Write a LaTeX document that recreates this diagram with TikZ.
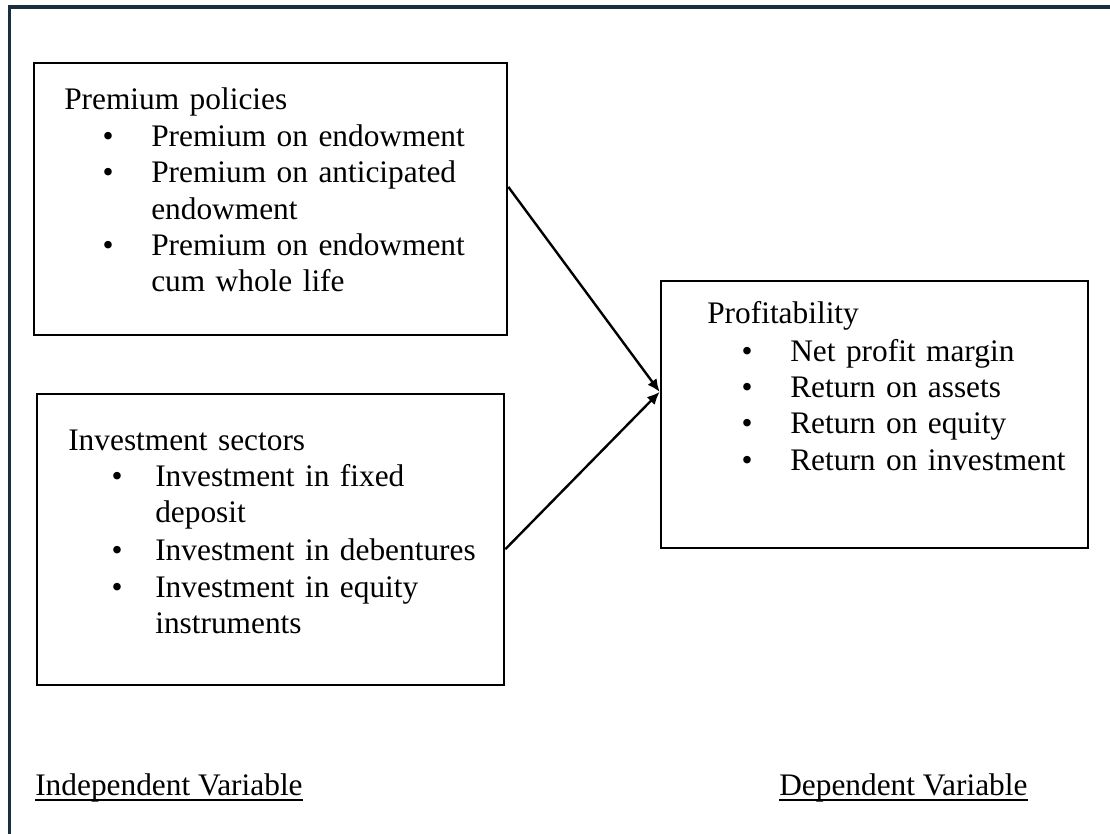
\documentclass[tikz,border=0pt]{standalone}
\usepackage{fontspec}
\setmainfont{Liberation Serif}
\usetikzlibrary{arrows.meta,calc}

\definecolor{framecol}{RGB}{23,48,64}

\tikzset{
  box/.style={draw, line width=1.8pt, inner sep=0pt},
  txt/.style={anchor=base west, inner sep=0pt, text width=11cm, align=left},
  dot/.style={anchor=base, inner sep=0pt},
  lbl/.style={anchor=base west, inner sep=0pt},
  link/.style={line width=1.7pt, -{Latex[length=9pt,width=8pt]}},
}

\begin{document}
\begin{tikzpicture}[x=0.025cm, y=-0.025cm, font=\fontsize{22.3pt}{26.2pt}\selectfont]
  \useasboundingbox (0,0) rectangle (1110,834);

  % outer frame
  \draw[framecol, line width=2.2pt] (9.5,834) -- (9.5,7) -- (1110,7);

  % boxes
  \node[box, minimum width=11.825cm, minimum height=6.8cm] (prem) at (270.5,199) {};
  \node[box, minimum width=11.675cm, minimum height=7.275cm] (inv) at (270.5,539.5) {};
  \node[box, minimum width=10.675cm, minimum height=6.675cm] (prof) at (874.5,414.5) {};

  % premium policies
  \node[txt] (premtitle) at (64,110) {Premium policies};
  \node[dot] (pb1) at (108,147) {\textbullet};
  \node[txt] (pi1) at (151,147) {Premium on endowment};
  \node[dot] (pb2) at (108,183) {\textbullet};
  \node[txt] (pi2) at (151,183) {Premium on anticipated\\endowment};
  \node[dot] (pb3) at (108,255) {\textbullet};
  \node[txt] (pi3) at (151,255) {Premium on endowment\\cum whole life};

  % investment sectors
  \node[txt] (invtitle) at (68,450) {Investment sectors};
  \node[dot] (ib1) at (117,486) {\textbullet};
  \node[txt] (ii1) at (155,486) {Investment in fixed\\deposit};
  \node[dot] (ib2) at (117,560) {\textbullet};
  \node[txt] (ii2) at (155,560) {Investment in debentures};
  \node[dot] (ib3) at (117,597) {\textbullet};
  \node[txt] (ii3) at (155,597) {Investment in equity\\instruments};

  % profitability
  \node[txt] (proftitle) at (707,323) {Profitability};
  \node[dot] (fb1) at (747,361) {\textbullet};
  \node[txt] (fi1) at (790,361) {Net profit margin};
  \node[dot] (fb2) at (747,397) {\textbullet};
  \node[txt] (fi2) at (790,397) {Return on assets};
  \node[dot] (fb3) at (747,433) {\textbullet};
  \node[txt] (fi3) at (790,433) {Return on equity};
  \node[dot] (fb4) at (747,470) {\textbullet};
  \node[txt] (fi4) at (790,470) {Return on investment};

  % arrows
  \coordinate (meet) at ($(prof.north west)!0.416!(prof.south west)$);
  \draw[link] ($(prem.north east)!0.456!(prem.south east)$) -- (meet);
  \draw[link] ($(inv.north east)!0.533!(inv.south east)$) -- (meet);

  % variable labels
  \node[lbl] (indep) at (35,795) {Independent Variable};
  \node[lbl] (dep) at (779,795) {Dependent Variable};
  \draw[line width=1.5pt] ([yshift=-3.6pt]indep.base west) -- ([yshift=-3.6pt]indep.base east);
  \draw[line width=1.5pt] ([yshift=-3.6pt]dep.base west) -- ([yshift=-3.6pt]dep.base east);
\end{tikzpicture}
\end{document}
